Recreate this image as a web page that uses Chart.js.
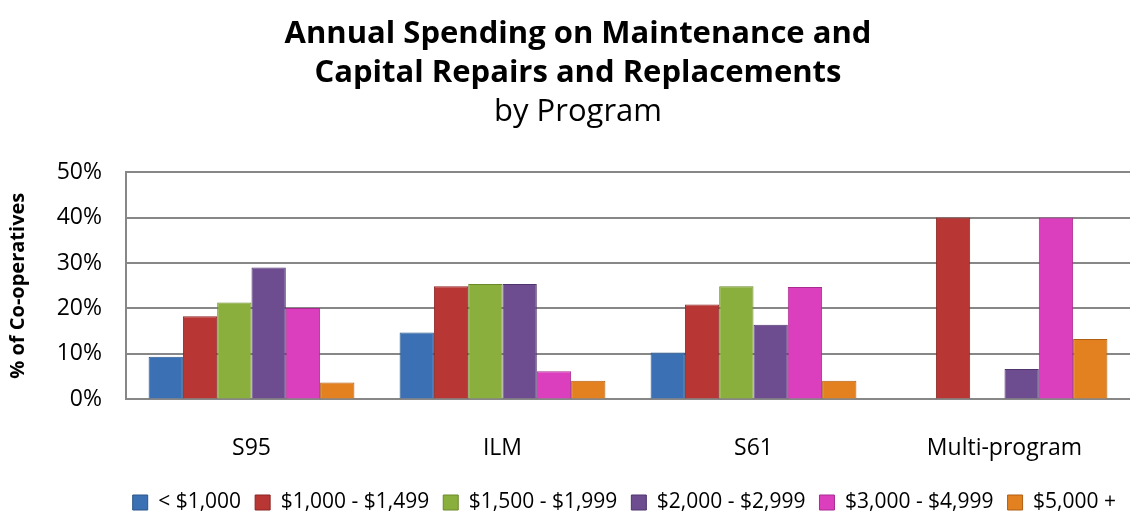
<!DOCTYPE html>
<html>
<head>
<meta charset="utf-8">
<script src="https://cdn.jsdelivr.net/npm/chart.js@4/dist/chart.umd.min.js"></script>
<style>
    html, body { margin: 0; padding: 0; background: #fff; }
    #wrap { width: 1146px; height: 523px; }
</style>
</head>
<body>
<div id="wrap"><canvas id="spendingChart" width="1146" height="523"></canvas></div>
<script>
const programs = ['S95', 'ILM', 'S61', 'Multi-program'];
const spendRanges = ['< $1,000', '$1,000 - $1,499', '$1,500 - $1,999', '$2,000 - $2,999', '$3,000 - $4,999', '$5,000 +'];

// % of co-operatives per program, one array per spending range
const under1000 = [9.4, 14.7, 10.3, 0];
const from1000 = [18.3, 24.9, 20.9, 40.0];
const from1500 = [21.3, 25.4, 24.9, 0];
const from2000 = [29.0, 25.4, 16.4, 6.7];
const from3000 = [20.1, 6.2, 24.7, 40.0];
const over5000 = [3.7, 4.1, 4.1, 13.3];

const yTicks = [0, 10, 20, 30, 40, 50];

const seriesValues = [under1000, from1000, from1500, from2000, from3000, over5000];
const seriesColors = ['#3B70B4', '#B83634', '#8BAF3D', '#6D4C90', '#DC3FBE', '#E3801F'];
const edgeColors = ['#2A5589', '#8C2422', '#6A8A2A', '#4F346D', '#A82C90', '#B05F12'];

const FONT = '"Open Sans", Lato, sans-serif';

new Chart(document.getElementById('spendingChart'), {
    type: 'bar',
    data: {
        labels: programs,
        datasets: seriesValues.map((vals, i) => ({
            label: spendRanges[i],
            data: vals,
            backgroundColor: seriesColors[i],
            borderColor: edgeColors[i],
            borderWidth: 1,
            categoryPercentage: 0.82,
            barPercentage: 1.0
        }))
    },
    options: {
        responsive: false,
        animation: false,
        layout: {
            padding: { left: 26, right: 16, top: 14, bottom: 0 }
        },
        scales: {
            x: {
                // grid hidden, tickLength only used as spacing under the axis
                grid: { display: false, tickLength: 19 },
                border: { display: false },
                ticks: {
                    color: '#000',
                    padding: 16,
                    font: { family: FONT, size: 23 }
                }
            },
            y: {
                min: 0,
                max: 50,
                afterFit: (scale) => { scale.width = 100; },
                afterBuildTicks: (scale) => {
                    scale.ticks = yTicks.map(v => ({ value: v }));
                },
                grid: {
                    color: '#878787',
                    lineWidth: 2,
                    drawTicks: false
                },
                border: { display: true, color: '#878787', width: 2 },
                ticks: {
                    color: '#000',
                    padding: 24,
                    font: { family: FONT, size: 23 },
                    callback: (v) => v + '%'
                },
                title: {
                    display: true,
                    text: '% of Co-operatives',
                    color: '#000',
                    // negative so the title sits left of the layout padding
                    padding: { top: -20, bottom: 0 },
                    font: { family: FONT, size: 20, weight: 'bold' }
                }
            }
        },
        plugins: {
            title: {
                display: true,
                text: ['Annual Spending on Maintenance and', 'Capital Repairs and Replacements'],
                color: '#000',
                padding: { top: 0, bottom: 0 },
                font: { family: FONT, size: 31, weight: 'bold', lineHeight: 1.27 }
            },
            subtitle: {
                display: true,
                text: 'by Program',
                color: '#000',
                padding: { top: 0, bottom: 40 },
                font: { family: FONT, size: 31, lineHeight: 1.27 }
            },
            legend: {
                position: 'bottom',
                align: 'end',
                labels: {
                    color: '#000',
                    boxWidth: 15,
                    boxHeight: 15,
                    padding: 14,
                    font: { family: FONT, size: 21 }
                }
            },
            tooltip: { enabled: false }
        }
    }
});
</script>
</body>
</html>
